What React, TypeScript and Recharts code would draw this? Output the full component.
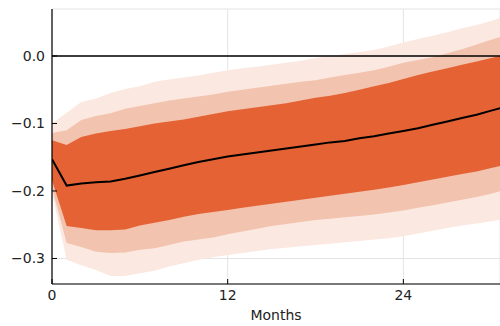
import React from 'react';
import { ComposedChart, Area, Line, XAxis, YAxis, CartesianGrid, ReferenceLine } from 'recharts';

const months = [0,1,2,3,4,5,6,7,8,9,10,11,12,13,14,15,16,17,18,19,20,21,22,23,24,25,26,27,28,29,30,31];
const median = [-0.153,-0.192,-0.189,-0.187,-0.186,-0.182,-0.177,-0.172,-0.167,-0.162,-0.157,-0.153,-0.149,-0.146,-0.143,-0.140,-0.137,-0.134,-0.131,-0.128,-0.126,-0.122,-0.119,-0.115,-0.111,-0.107,-0.102,-0.097,-0.092,-0.087,-0.081,-0.075];
const innerHigh = [-0.125,-0.132,-0.120,-0.115,-0.111,-0.108,-0.104,-0.100,-0.097,-0.094,-0.090,-0.086,-0.082,-0.079,-0.076,-0.073,-0.070,-0.066,-0.062,-0.059,-0.055,-0.050,-0.045,-0.040,-0.034,-0.028,-0.023,-0.018,-0.013,-0.008,-0.003,0.002];
const innerLow = [-0.184,-0.252,-0.255,-0.258,-0.258,-0.257,-0.251,-0.247,-0.243,-0.238,-0.234,-0.231,-0.228,-0.225,-0.222,-0.219,-0.216,-0.213,-0.210,-0.207,-0.204,-0.201,-0.198,-0.195,-0.191,-0.187,-0.183,-0.179,-0.175,-0.171,-0.166,-0.161];
const midHigh = [-0.114,-0.110,-0.095,-0.089,-0.085,-0.078,-0.074,-0.070,-0.066,-0.063,-0.060,-0.057,-0.053,-0.050,-0.047,-0.044,-0.041,-0.038,-0.036,-0.032,-0.028,-0.025,-0.021,-0.016,-0.010,-0.006,-0.002,0.004,0.010,0.017,0.024,0.031];
const midLow = [-0.196,-0.277,-0.283,-0.290,-0.292,-0.291,-0.287,-0.285,-0.280,-0.275,-0.272,-0.269,-0.264,-0.260,-0.256,-0.252,-0.249,-0.246,-0.243,-0.241,-0.239,-0.237,-0.235,-0.232,-0.229,-0.225,-0.221,-0.217,-0.213,-0.209,-0.204,-0.198];
const outerHigh = [-0.100,-0.084,-0.068,-0.063,-0.055,-0.049,-0.045,-0.038,-0.035,-0.032,-0.029,-0.025,-0.021,-0.018,-0.016,-0.013,-0.010,-0.007,-0.003,0.000,0.003,0.006,0.009,0.014,0.020,0.025,0.030,0.035,0.041,0.046,0.052,0.059];
const outerLow = [-0.203,-0.302,-0.310,-0.317,-0.326,-0.326,-0.322,-0.318,-0.312,-0.307,-0.302,-0.298,-0.295,-0.292,-0.289,-0.286,-0.284,-0.282,-0.280,-0.278,-0.276,-0.274,-0.272,-0.270,-0.267,-0.263,-0.259,-0.255,-0.251,-0.248,-0.245,-0.241];

const xTicks = [0, 12, 24];
const yTicks = [-0.3, -0.2, -0.1, 0];

const data = months.map((m, i) => ({
  m,
  median: median[i],
  inner: [innerLow[i], innerHigh[i]],
  mid: [midLow[i], midHigh[i]],
  outer: [outerLow[i], outerHigh[i]],
}));

const fmtY = (v: number) => {
  const s = Math.abs(v).toFixed(1);
  return v < -1e-9 ? '\u2212' + s : s;
};

const font = { fontFamily: 'DejaVu Sans', fontSize: 14, fill: '#222' };

export default function App() {
  return (
    <div style={{ position: 'absolute', left: 0, top: 0, width: 500, height: 326, overflow: 'hidden', background: '#fff' }}>
      <ComposedChart width={500} height={326} data={data} margin={{ top: 9, right: 0, left: 0, bottom: 0 }}>
        <CartesianGrid stroke="#e4e4e4" strokeWidth={1} />
        <XAxis
          dataKey="m"
          type="number"
          domain={[0, 30.6]}
          allowDataOverflow
          ticks={xTicks}
          height={42}
          tickSize={-5}
          tickMargin={11}
          tick={font}
          stroke="#000"
          axisLine={{ stroke: '#000', strokeWidth: 1.2 }}
          tickLine={{ stroke: '#000' }}
          label={{ value: 'Months', position: 'insideBottom', offset: 6, style: { ...font } }}
        />
        <XAxis xAxisId="top" orientation="top" dataKey="m" type="number" domain={[0, 30.6]} height={0} tick={false} tickLine={false} axisLine={{ stroke: '#333', strokeWidth: 1.2 }} />
        <YAxis
          type="number"
          domain={[-0.3378, 0.0696]}
          allowDataOverflow
          ticks={yTicks}
          width={52}
          tickSize={-5}
          tickMargin={12}
          tickFormatter={fmtY}
          tick={font}
          axisLine={{ stroke: '#000', strokeWidth: 1.2 }}
          tickLine={{ stroke: '#000' }}
        />
        <Area dataKey="outer" type="linear" stroke="none" fill="#FBE8E0" fillOpacity={1} isAnimationActive={false} />
        <Area dataKey="mid" type="linear" stroke="none" fill="#F2C3AE" fillOpacity={1} isAnimationActive={false} />
        <Area dataKey="inner" type="linear" stroke="none" fill="#E46234" fillOpacity={1} isAnimationActive={false} />
        <ReferenceLine y={0} stroke="#000" strokeWidth={1.3} />
        <Line dataKey="median" type="linear" stroke="#000" strokeWidth={2} dot={false} isAnimationActive={false} />
      </ComposedChart>
    </div>
  );
}
